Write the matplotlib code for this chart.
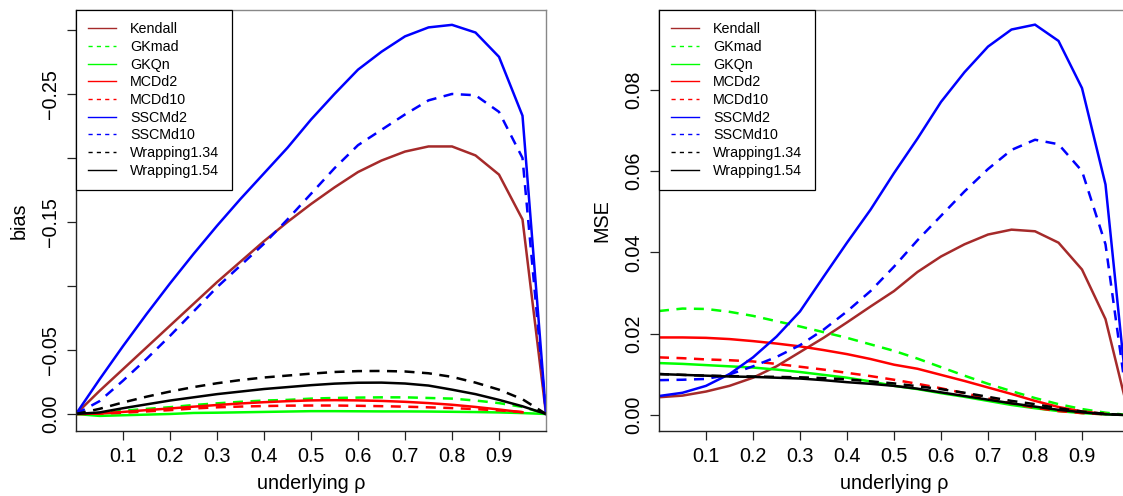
import numpy as np
import matplotlib
matplotlib.use("Agg")
import matplotlib.pyplot as plt
from matplotlib.lines import Line2D

plt.rcParams["font.family"] = ["Liberation Sans", "DejaVu Sans"]

rho = [0.00, 0.05, 0.10, 0.15, 0.20, 0.25, 0.30, 0.35, 0.40, 0.45, 0.50,
       0.55, 0.60, 0.65, 0.70, 0.75, 0.80, 0.85, 0.90, 0.95, 1.00]
nan = float("nan")

# bias per estimator
bias_kendall = [0, -0.018, -0.035, -0.052, -0.069, -0.086, -0.103, -0.119, -0.135, -0.150, -0.164,
                -0.177, -0.189, -0.198, -0.205, -0.209, -0.209, -0.202, -0.187, -0.152, 0]
bias_gkmad = [0, -0.0005, -0.0025, -0.004, -0.0053, -0.007, -0.0083, -0.0095, -0.0105, -0.011, -0.012,
              -0.0125, -0.0128, -0.013, -0.013, -0.0125, -0.012, -0.0105, -0.0085, -0.0055, 0]
bias_gkqn = [0, 0.0015, 0.001, 0.0005, 0, -0.0008, -0.001, -0.0013, -0.0016, -0.0019, -0.0022,
             -0.0022, -0.0021, -0.002, -0.002, -0.0019, -0.0017, -0.0015, -0.0012, -0.0007, 0]
bias_mcdd2 = [0, -0.0003, -0.0016, -0.003, -0.0043, -0.0057, -0.007, -0.0082, -0.0092, -0.0100, -0.0106,
              -0.0108, -0.0106, -0.0102, -0.0095, -0.0085, -0.0072, -0.0055, -0.0035, -0.0013, nan]
bias_mcdd10 = [0, -0.0002, -0.001, -0.002, -0.003, -0.0043, -0.0052, -0.0058, -0.0062, -0.0065, -0.0066,
               -0.0066, -0.0064, -0.0061, -0.0057, -0.0052, -0.0046, -0.0038, -0.0028, -0.0015, nan]
bias_sscmd2 = [0, -0.027, -0.053, -0.078, -0.102, -0.125, -0.147, -0.168, -0.188, -0.208, -0.230,
               -0.250, -0.269, -0.283, -0.295, -0.302, -0.304, -0.298, -0.279, -0.233, 0]
bias_sscmd10 = [0, -0.010, -0.026, -0.043, -0.061, -0.080, -0.099, -0.116, -0.133, -0.152, -0.172,
                -0.192, -0.210, -0.222, -0.234, -0.245, -0.250, -0.249, -0.236, -0.200, 0]
bias_wrap134 = [0, -0.004, -0.009, -0.0135, -0.0175, -0.021, -0.024, -0.0265, -0.0285, -0.030, -0.0315,
                -0.0328, -0.0335, -0.0336, -0.0332, -0.0318, -0.029, -0.0245, -0.019, -0.0115, 0]
bias_wrap154 = [0, -0.0012, -0.0045, -0.0075, -0.0105, -0.013, -0.0155, -0.0175, -0.0195, -0.021, -0.0225,
                -0.0237, -0.0244, -0.0245, -0.0238, -0.0222, -0.019, -0.0155, -0.011, -0.006, 0]

# MSE per estimator
mse_kendall = [0.0044, 0.0048, 0.0058, 0.0072, 0.0092, 0.0120, 0.0155, 0.0190, 0.0228, 0.0267, 0.0305,
               0.0352, 0.0390, 0.0420, 0.0444, 0.0456, 0.0452, 0.0424, 0.0358, 0.0236, 0]
mse_gkmad = [0.0256, 0.0262, 0.0261, 0.0254, 0.0244, 0.0231, 0.0218, 0.0204, 0.0190, 0.0174, 0.0158,
             0.0139, 0.0118, 0.0097, 0.0077, 0.0059, 0.0042, 0.0027, 0.0015, 0.0006, 0]
mse_gkqn = [0.0128, 0.0126, 0.0123, 0.0120, 0.0117, 0.0112, 0.0106, 0.0099, 0.0092, 0.0083, 0.0072,
            0.0064, 0.0054, 0.0045, 0.0035, 0.0025, 0.0017, 0.0010, 0.0005, 0.0002, 0]
mse_mcdd2 = [0.0191, 0.0191, 0.0190, 0.0187, 0.0182, 0.0176, 0.0169, 0.0160, 0.0150, 0.0138, 0.0124,
             0.0114, 0.0099, 0.0084, 0.0068, 0.0052, 0.0035, 0.0020, 0.0009, 0.0003, nan]
mse_mcdd10 = [0.0142, 0.0140, 0.0137, 0.0135, 0.0132, 0.0126, 0.0119, 0.0112, 0.0104, 0.0096, 0.0087,
              0.0077, 0.0066, 0.0054, 0.0041, 0.0029, 0.0018, 0.0010, 0.0005, 0.0002, nan]
mse_sscmd2 = [0.0047, 0.0055, 0.0072, 0.0101, 0.0142, 0.0193, 0.0255, 0.0340, 0.0424, 0.0505, 0.0595,
              0.0680, 0.0770, 0.0843, 0.0906, 0.0948, 0.0960, 0.0920, 0.0804, 0.0567, 0]
mse_sscmd10 = [0.0086, 0.0087, 0.0089, 0.0100, 0.0120, 0.0143, 0.0172, 0.0210, 0.0255, 0.0305, 0.0365,
               0.0430, 0.0490, 0.0550, 0.0605, 0.0652, 0.0677, 0.0666, 0.0600, 0.0420, 0]
mse_wrap134 = [0.0101, 0.0099, 0.0097, 0.0096, 0.0095, 0.0094, 0.0093, 0.0091, 0.0088, 0.0083, 0.0078,
               0.0071, 0.0064, 0.0055, 0.0045, 0.0035, 0.0027, 0.0017, 0.0009, 0.0003, 0]
mse_wrap154 = [0.0101, 0.0099, 0.0097, 0.0095, 0.0094, 0.0092, 0.0090, 0.0086, 0.0081, 0.0077, 0.0072,
               0.0065, 0.0056, 0.0047, 0.0038, 0.0029, 0.0021, 0.0013, 0.0007, 0.0002, 0]

names = ["Kendall", "GKmad", "GKQn", "MCDd2", "MCDd10", "SSCMd2", "SSCMd10", "Wrapping1.34", "Wrapping1.54"]
colors = ["#A52A2A", "#00FF00", "#00FF00", "#FF0000", "#FF0000", "#0000FF", "#0000FF", "black", "black"]
dashed = [False, True, False, False, True, False, True, True, False]

bias_all = [bias_kendall, bias_gkmad, bias_gkqn, bias_mcdd2, bias_mcdd10,
            bias_sscmd2, bias_sscmd10, bias_wrap134, bias_wrap154]
mse_all = [mse_kendall, mse_gkmad, mse_gkqn, mse_mcdd2, mse_mcdd10,
           mse_sscmd2, mse_sscmd10, mse_wrap134, mse_wrap154]

x_ticks = [0.1, 0.2, 0.3, 0.4, 0.5, 0.6, 0.7, 0.8, 0.9]
x_ticklabels = ["0.1", "0.2", "0.3", "0.4", "0.5", "0.6", "0.7", "0.8", "0.9"]
bias_ticks = [0.0, -0.05, -0.10, -0.15, -0.20, -0.25, -0.30]
bias_ticklabels = ["0.00", "\u22120.05", "", "\u22120.15", "", "\u22120.25", ""]
mse_ticks = [0.0, 0.02, 0.04, 0.06, 0.08]
mse_ticklabels = ["0.00", "0.02", "0.04", "0.06", "0.08"]

W, H = 1123, 496
fig = plt.figure(figsize=(W / 100, H / 100), dpi=100)
ax1 = fig.add_axes([76 / W, (H - 431) / H, 470 / W, 421 / H])
ax2 = fig.add_axes([659 / W, (H - 431) / H, 470 / W, 421 / H])


def draw_panel(ax, series, ylim, yticks, yticklabels, ylabel):
    for vals, col, dsh in zip(series, colors, dashed):
        ln, = ax.plot(rho, vals, color=col, lw=1.8, solid_joinstyle="miter")
        if dsh:
            ln.set_dashes((4, 3))
    ax.set_xlim(0, 1)
    ax.set_ylim(*ylim)
    ax.set_xticks(x_ticks, x_ticklabels)
    ax.set_yticks(yticks, yticklabels)
    ax.tick_params(axis="both", direction="out", length=6.5, width=0.9,
                   labelsize=14.2, pad=5.0, color="#222222")
    ax.tick_params(axis="y", labelrotation=90)
    for lab in ax.get_yticklabels():
        lab.set_va("center")
    ax.set_xlabel("underlying \u03c1", fontsize=14.2, labelpad=6)
    ax.set_ylabel(ylabel, fontsize=14.2, labelpad=9)
    for side in ["left", "bottom"]:
        ax.spines[side].set_color("#222222")
        ax.spines[side].set_linewidth(1.0)
    for side in ["top", "right"]:
        ax.spines[side].set_color("#888888")
        ax.spines[side].set_linewidth(1.0)

    handles = []
    for col, dsh in zip(colors, dashed):
        h = Line2D([], [], color=col, lw=1.0)
        if dsh:
            h.set_dashes((3, 3))
        handles.append(h)
    leg = ax.legend(handles, names, loc="upper left", bbox_to_anchor=(0, 1),
                    borderaxespad=0, fontsize=10.3, handlelength=1.95,
                    handletextpad=1.0, borderpad=0.85, labelspacing=0.26,
                    fancybox=False, framealpha=1, edgecolor="black")
    leg.get_frame().set_linewidth(0.9)


draw_panel(ax1, bias_all, (0.0133, -0.3156), bias_ticks, bias_ticklabels, "bias")
draw_panel(ax2, mse_all, (-0.0039, 0.0996), mse_ticks, mse_ticklabels, "MSE")

fig.savefig("out.png", dpi=100)
